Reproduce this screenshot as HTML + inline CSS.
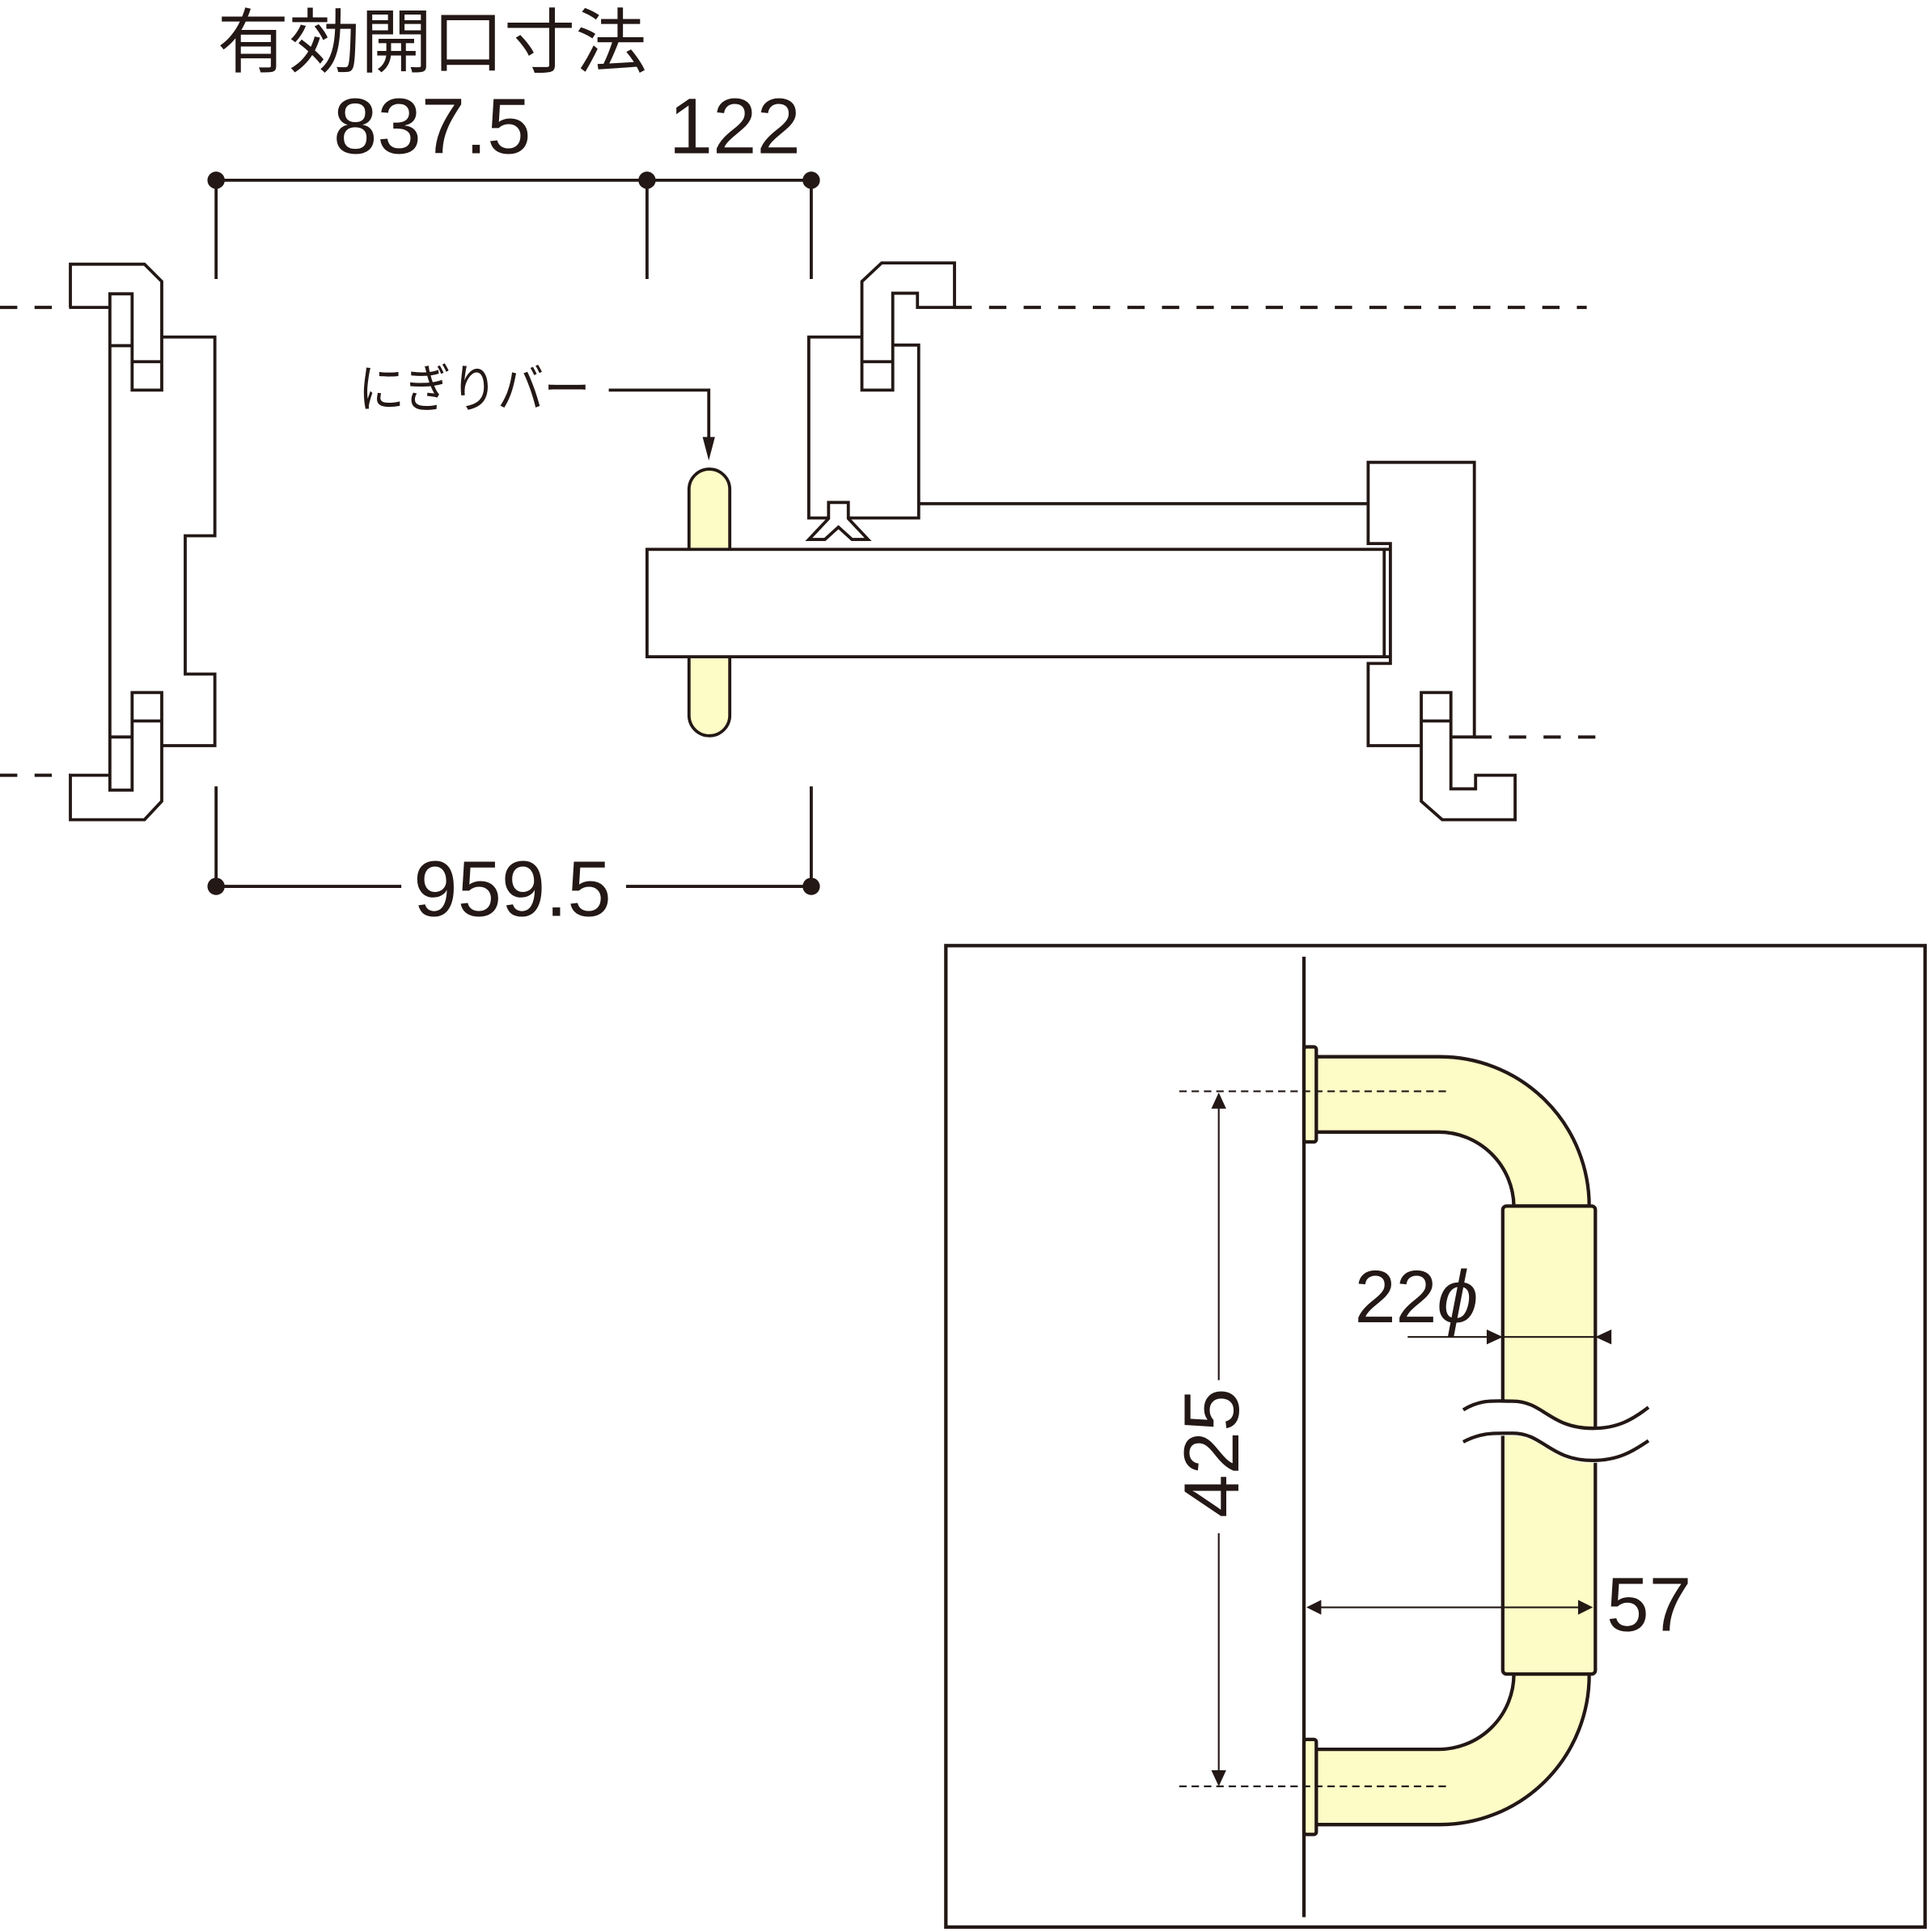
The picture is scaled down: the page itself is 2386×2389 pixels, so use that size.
<!DOCTYPE html>
<html><head><meta charset="utf-8"><style>html,body{margin:0;padding:0;background:#fff}svg{display:block}</style></head>
<body>
<svg width="2386" height="2389" viewBox="0 0 1563 1565" preserveAspectRatio="none" xmlns="http://www.w3.org/2000/svg">
<g font-family="Liberation Sans, Noto Sans CJK JP, sans-serif" fill="#231815">
<text x="176" y="54" font-size="57" textLength="348" lengthAdjust="spacingAndGlyphs">有効開口寸法</text>
<text x="350" y="124" font-size="64" text-anchor="middle">837.5</text>
<text x="595" y="124" font-size="64" text-anchor="middle">122</text>
<text x="415" y="742" font-size="64" text-anchor="middle">959.5</text>
<text x="290" y="330" font-size="42" textLength="188" lengthAdjust="spacingAndGlyphs">にぎりバー</text>
<text x="1097" y="1071" font-size="60">22<tspan font-style="italic">ϕ</tspan></text>
<text x="1301" y="1321" font-size="62">57</text>
<text transform="translate(1003,1177) rotate(-90)" font-size="63" text-anchor="middle">425</text>
</g>
<g stroke="#231815" stroke-width="2.5" fill="none">
<line x1="175" y1="146" x2="657" y2="146"/>
<line x1="175" y1="146" x2="175" y2="226"/><line x1="524" y1="146" x2="524" y2="226"/><line x1="657" y1="146" x2="657" y2="226"/>
<line x1="175" y1="718" x2="325" y2="718"/><line x1="507" y1="718" x2="657" y2="718"/>
<line x1="175" y1="637" x2="175" y2="718"/><line x1="657" y1="637" x2="657" y2="718"/>
<g stroke-dasharray="14,14" stroke-width="2.6">
<line x1="0" y1="249" x2="57" y2="249"/><line x1="0" y1="628" x2="57" y2="628"/>
<line x1="773" y1="249" x2="1285" y2="249"/><line x1="1194" y1="597" x2="1295" y2="597"/>
</g>
<path d="M57,249 V214 H117 L131,228 V316 H107 V238 H89 V640 H107 V561 H131 V649 L117,664 H57 V628 H89"/>
<line x1="57" y1="249" x2="89" y2="249"/>
<line x1="89" y1="280" x2="107" y2="280"/><line x1="107" y1="293" x2="131" y2="293"/>
<line x1="89" y1="597" x2="107" y2="597"/><line x1="107" y1="584" x2="131" y2="584"/>
<path d="M131,273 H174 V434 H150 V546 H174 V604 H131"/>
<path d="M773,249 V213 H714 L698,228 V316 H723 V237.5 H743 V249 H773"/>
<path d="M723,279.5 H744 V419.6 H655 V273 H698"/>
<line x1="698" y1="293" x2="723" y2="293"/>
<polygon points="671,407 687,407 687,420 703,437 690,437 679,427 668,437 655,437 671,420" fill="#fff"/>
<line x1="744" y1="408" x2="1108" y2="408"/>
<path d="M1151,604 H1108 V537.4 H1126 V440.3 H1108 V374.5 H1194 V597 H1175"/>
<path d="M1151,561 H1175 V639 H1195 V628 H1227 V664 H1168 L1151,649 Z"/>
<line x1="1151" y1="584" x2="1175" y2="584"/>
<rect x="558" y="380" width="33" height="216" rx="16.5" fill="#fdfbc6"/>
<rect x="524" y="445" width="597" height="87" fill="#fff"/>
<line x1="1121" y1="445" x2="1126" y2="445" /><line x1="1121" y1="532" x2="1126" y2="532"/>
<polyline points="493,316 574,316 574,356"/>
</g>
<g fill="#231815">
<polygon points="569,354 579,354 574,373"/>
<circle cx="175" cy="146" r="7"/><circle cx="524" cy="146" r="7"/><circle cx="657" cy="146" r="7"/>
<circle cx="175" cy="718" r="7"/><circle cx="657" cy="718" r="7"/>
</g>
<g stroke="#231815" stroke-width="2.8" fill="none">
<rect x="766" y="766" width="793" height="795"/>
<line x1="1056" y1="775" x2="1056" y2="1553"/>
<path d="M1066,856 H1165 A121,121 0 0 1 1287,977 H1226 A61,61 0 0 0 1165,917 H1066 Z" fill="#fdfbc6"/>
<path d="M1066,1478 H1165 A121,121 0 0 0 1287,1356 H1226 A61,61 0 0 1 1165,1417 H1066 Z" fill="#fdfbc6"/>
<rect x="1217" y="977" width="75" height="379" rx="3" fill="#fdfbc6"/>
<rect x="1056" y="848" width="10" height="77" rx="2" fill="#fdfbc6"/>
<rect x="1056" y="1409" width="10" height="77" rx="2" fill="#fdfbc6"/>
<path d="M1185,1142 C1200,1133 1210,1135 1225,1135 C1250,1135 1255,1157 1290,1157 C1310,1157 1322,1150 1335,1140 L1335,1168 C1322,1177 1310,1185 1290,1185 C1255,1185 1250,1163 1225,1163 C1210,1163 1200,1163 1185,1170 Z" fill="#fff" stroke="none"/>
<path d="M1185,1142 C1200,1133 1210,1135 1225,1135 C1250,1135 1255,1157 1290,1157 C1310,1157 1322,1150 1335,1140"/>
<path d="M1185,1168 C1200,1160 1210,1161 1225,1161 C1250,1161 1255,1183 1290,1183 C1310,1183 1322,1176 1335,1167"/>
</g>
<g stroke="#231815" stroke-width="1.4" fill="none">
<line x1="955" y1="884" x2="1175" y2="884" stroke-dasharray="6,4"/>
<line x1="955" y1="1447" x2="1175" y2="1447" stroke-dasharray="6,4"/>
<line x1="987" y1="895" x2="987" y2="1118"/><line x1="987" y1="1242" x2="987" y2="1436"/>
<line x1="1140" y1="1083" x2="1300" y2="1083"/>
<line x1="1068" y1="1302" x2="1280" y2="1302"/>
</g>
<g fill="#231815">
<polygon points="981,898 993,898 987,885"/><polygon points="981,1434 993,1434 987,1447"/>
<polygon points="1204,1077 1204,1089 1217,1083"/><polygon points="1305,1077 1305,1089 1292,1083"/>
<polygon points="1070,1296 1070,1308 1058,1302"/><polygon points="1278,1296 1278,1308 1290,1302"/>
</g>
</svg>
</body></html>
